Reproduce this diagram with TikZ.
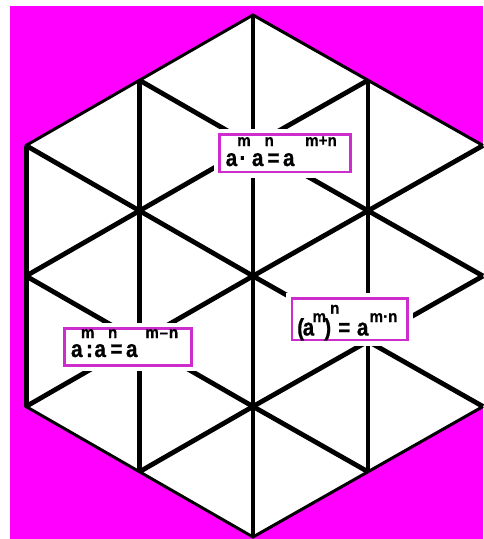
\documentclass[tikz,border=0pt]{standalone}
\usepackage{fontspec}
\setmainfont{Liberation Sans}
\newfontfamily\basefont{Liberation Sans}[FakeStretch=0.86,FakeBold=0.8]
\newfontfamily\supfont{Liberation Sans}[FakeStretch=0.92,FakeBold=0.6]
\newcommand\bigtxt{\basefont\fontsize{24}{24}\selectfont\bfseries}
\newcommand\suptxt{\supfont\fontsize{16.5}{16.5}\selectfont\bfseries}
% place a piece centred at offset #1 (pt) from the node origin, raised by #2 (pt)
\newcommand\putat[3]{\rlap{\kern#1pt\makebox[0pt]{\raisebox{#2pt}{#3}}}}
\definecolor{bgmag}{RGB}{255,0,255}
\definecolor{boxmag}{RGB}{205,45,205}
\begin{document}
\begin{tikzpicture}[x=1pt,y=-1pt,
  formula/.style={inner sep=0pt, outer sep=0pt, anchor=base west},
  hexedge/.style={line width=3pt, line join=miter},
  gridline/.style={line width=4.8pt},
  halo/.style={fill=white},
  lbox/.style={draw=boxmag, line width=2.6pt, fill=white}]
\useasboundingbox (0,0) rectangle (483,539);
\fill[white] (0,0) rectangle (483,539);
\fill[bgmag] (10,6) rectangle (483,539);
% lattice points
\coordinate (p20) at (253,15);
\coordinate (p22) at (253,145.5);
\coordinate (p24) at (253,276);
\coordinate (p26) at (253,406.5);
\coordinate (p28) at (253,537);
\coordinate (p02) at (26,145.5);
\coordinate (p04) at (26,276);
\coordinate (p06) at (26,406.5);
\coordinate (p42) at (483,145.5);
\coordinate (p44) at (483,276);
\coordinate (p46) at (483,406.5);
\coordinate (p11) at (139.5,80.25);
\coordinate (p13) at (139.5,210.75);
\coordinate (p15) at (139.5,341.25);
\coordinate (p17) at (139.5,471.75);
\coordinate (p31) at (368,80.25);
\coordinate (p33) at (368,210.75);
\coordinate (p35) at (368,341.25);
\coordinate (p37) at (368,471.75);
% hexagon
\fill[white] (p20) -- (p31) -- (p42) -- (p44) -- (p46) -- (p37) -- (p28) -- (p17) -- (p06) -- (p04) -- (p02) -- (p11) -- cycle;
% grid lines
\draw[gridline] (p11) -- (p17);
\draw[gridline] (p20) -- (p28);
\draw[gridline] (p31) -- (p37);
\draw[gridline] (p11) -- (p22) -- (p33) -- (p44);
\draw[gridline] (p02) -- (p13) -- (p24) -- (p35) -- (p46);
\draw[gridline] (p04) -- (p15) -- (p26) -- (p37);
\draw[gridline] (p31) -- (p22) -- (p13) -- (p04);
\draw[gridline] (p42) -- (p33) -- (p24) -- (p15) -- (p06);
\draw[gridline] (p44) -- (p35) -- (p26) -- (p17);
% hexagon edges
\draw[hexedge] (p42) -- (p31) -- (p20) -- (p11) -- (p02) -- (p04) -- (p06) -- (p17) -- (p28) -- (p37) -- (p46);
\draw[line width=5pt] (p02) -- (p06);
% label boxes
\fill[halo] (213.5,128.5) rectangle (356,178);
\draw[lbox] (219.3,134.3) rectangle (350.4,172);
\fill[halo] (58.5,322.8) rectangle (197.5,371.2);
\draw[lbox] (64.3,328.6) rectangle (191.7,365.4);
\fill[halo] (286.2,292.5) rectangle (413.2,345.8);
\draw[lbox] (292,298.3) rectangle (407.4,340);
% formula 1: a^m . a^n = a^(m+n)
\node[formula] (f1) at (231,166) {%
  \putat{0}{0}{\bigtxt a}\putat{11.5}{0}{\bigtxt ·}\putat{26.2}{0}{\bigtxt a}%
  \putat{42}{0}{\bigtxt =}\putat{57.3}{0}{\bigtxt a}%
  \putat{12.5}{20}{\suptxt m}\putat{37.7}{20}{\suptxt n}\putat{89.5}{20}{\suptxt m+n}};
% formula 2: a^m : a^n = a^(m-n)
\node[formula] (f2) at (76.3,357) {%
  \putat{0}{0}{\bigtxt a}\putat{12.7}{0}{\bigtxt :}\putat{23.4}{0}{\bigtxt a}%
  \putat{39.7}{0}{\bigtxt =}\putat{55}{0}{\bigtxt a}%
  \putat{10.9}{19}{\suptxt m}\putat{35.9}{19}{\suptxt n}\putat{85}{19}{\suptxt m\kern0.8pt–\kern0.8pt n}};
% formula 3: (a^m)^n = a^(m.n)
\node[formula] (f3) at (300.2,335.5) {%
  \putat{0}{0}{\bigtxt (}\putat{7.8}{0}{\bigtxt a}\putat{18.6}{13.5}{\suptxt m}%
  \putat{27}{0}{\bigtxt )}\putat{34.1}{21.8}{\suptxt n}\putat{43.6}{0}{\bigtxt =}%
  \putat{62}{0}{\bigtxt a}\putat{82.8}{13.5}{\suptxt m·n}};
\end{tikzpicture}
\end{document}
